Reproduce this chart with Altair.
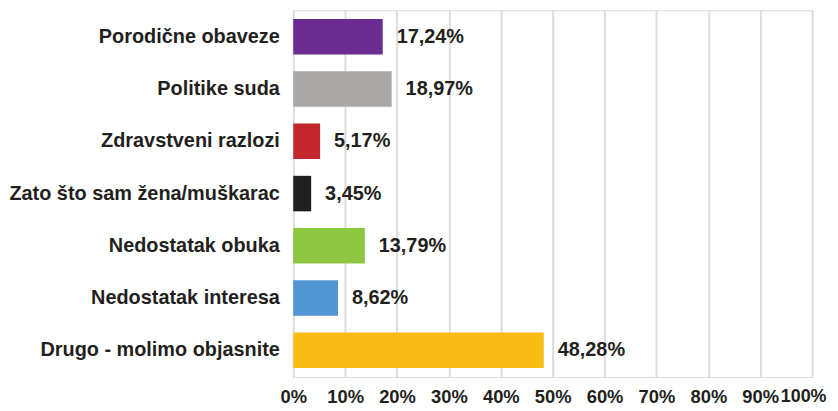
import altair as alt
import pandas as pd

categories = ["Porodične obaveze", "Politike suda", "Zdravstveni razlozi",
              "Zato što sam žena/muškarac", "Nedostatak obuka",
              "Nedostatak interesa", "Drugo - molimo objasnite"]
values = [17.24, 18.97, 5.17, 3.45, 13.79, 8.62, 48.28]
labels = ["17,24%", "18,97%", "5,17%", "3,45%", "13,79%", "8,62%", "48,28%"]
colors = ["#6a2c91", "#aba7a5", "#c1272d", "#231f20", "#8dc63f", "#4f96d3", "#f9bc15"]

df = pd.DataFrame({"cat": categories, "val": values, "lab": labels})

FONT = "Liberation Sans"
TXT = "#231f20"

y = alt.Y("cat:N", sort=categories, title=None,
          scale=alt.Scale(paddingInner=0.32, paddingOuter=0.17),
          axis=alt.Axis(labelFont=FONT, labelFontSize=20, labelFontWeight="bold",
                        labelColor=TXT, ticks=False, domain=False, labelPadding=14,
                        labelLimit=400))
x = alt.X("val:Q", title=None,
          scale=alt.Scale(domain=[0, 100], nice=False),
          axis=alt.Axis(values=list(range(0, 101, 10)),
                        labelExpr="datum.value + '%'",
                        labelFont=FONT, labelFontWeight="bold",
                        labelFontSize={"condition": {"test": "datum.value == 100", "value": 18},
                                       "value": 18.5},
                        labelColor=TXT, ticks=False, domain=False, labelPadding=11,
                        labelOverlap=False, labelFlush=False,
                        labelOffset={"condition": {"test": "datum.value == 100", "value": -9},
                                     "value": 0},
                        grid=True, gridColor="#dcdcdc", gridWidth=2))

bars = alt.Chart(df).mark_bar().encode(
    x=x, y=y,
    color=alt.Color("cat:N", sort=categories,
                    scale=alt.Scale(domain=categories, range=colors), legend=None),
)
text = alt.Chart(df).mark_text(align="left", baseline="middle", dx=14,
                               font=FONT, fontSize=20, fontWeight="bold",
                               color=TXT).encode(
    x="val:Q", y=alt.Y("cat:N", sort=categories), text="lab:N")

chart = (bars + text).properties(
    width=522, height=369,
    autosize=alt.AutoSizeParams(type="none"),
    padding={"left": 287, "top": 1, "right": 18, "bottom": 30},
).configure_view(
    fill="#f1f1f1", stroke="#dcdcdc", strokeWidth=2
).configure(background="white")

chart.save("out.html", embed_options={"renderer": "svg", "actions": False})
